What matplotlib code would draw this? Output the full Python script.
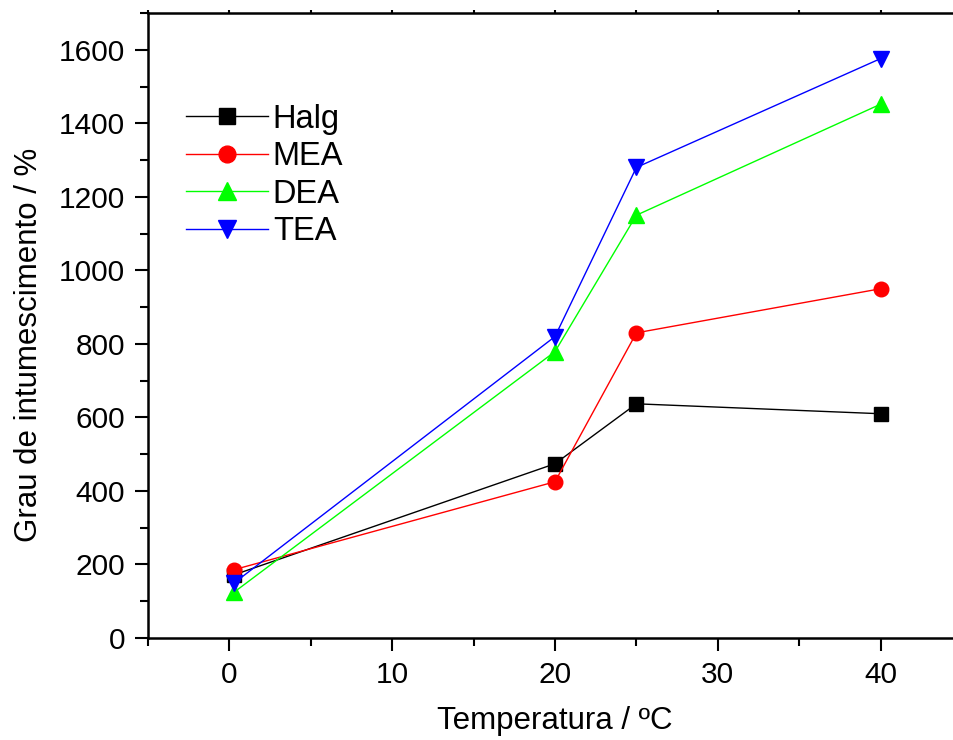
import matplotlib
matplotlib.use("Agg")
import matplotlib.pyplot as plt
from matplotlib.ticker import MultipleLocator

plt.rcParams['font.family'] = ['Liberation Sans', 'DejaVu Sans']

temps = [0.3, 20, 25, 40]
halg = [172, 474, 637, 610]
mea = [186, 425, 830, 950]
dea = [125, 779, 1150, 1452]
tea = [150, 820, 1280, 1576]

series = [
    ("Halg", halg, "black", "s", 9.5),
    ("MEA", mea, "#ff0000", "o", 10.5),
    ("DEA", dea, "#00ff00", "^", 11),
    ("TEA", tea, "#0000ff", "v", 11),
]

fig = plt.figure(figsize=(9.54, 7.40), dpi=100)
ax = fig.add_axes([148/954, 102/740, (962-148)/954, (638-13)/740])

for name, vals, col, mk, ms in series:
    ax.plot(temps, vals, color=col, marker=mk, markersize=ms, linewidth=1.0,
            label=name, clip_on=False)

ax.set_xlim(-5, 45)
ax.set_ylim(0, 1700)
ax.xaxis.set_minor_locator(MultipleLocator(5))
ax.yaxis.set_minor_locator(MultipleLocator(100))
ax.set_yticks(range(0, 1601, 200))
ax.set_xticks(range(0, 41, 10))

for s in ax.spines.values():
    s.set_linewidth(1.8)
ax.spines['right'].set_visible(False)

ax.tick_params(which='major', direction='out', length=9.5, width=1.5, labelsize=21.5, pad=7)
ax.tick_params(which='minor', direction='out', length=6, width=1.5)
ax.tick_params(axis='x', which='both', top=True, labeltop=False)
# short marks on the top axis
for t in ax.xaxis.get_major_ticks() + ax.xaxis.get_minor_ticks():
    t.tick2line.set_markersize(2)

ax.set_xlabel("Temperatura / ºC", fontsize=22.5, labelpad=12)
ax.set_ylabel("Grau de intumescimento / %", fontsize=22.5)
ax.yaxis.set_label_coords(-0.128, 0.469)

ax.legend(loc='upper left', bbox_to_anchor=(0.047, 0.855), frameon=False, fontsize=23.5,
          handlelength=2.5, handletextpad=0.15, labelspacing=0.2, borderaxespad=0,
          borderpad=0, markerscale=1.15)

fig.savefig("out.png", dpi=100)
